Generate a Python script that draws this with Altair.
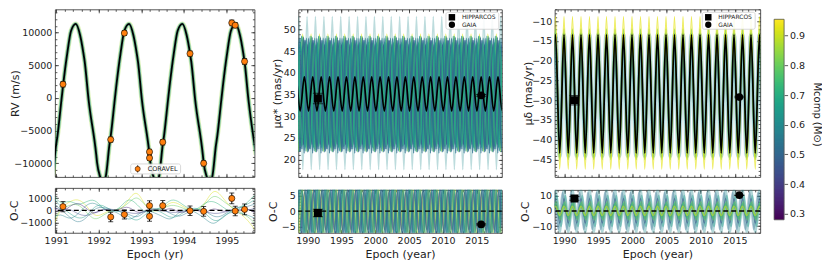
import altair as alt
import pandas as pd

FONT = "DejaVu Sans"

# ---------------- Panel 1: RV vs. Epoch (CORAVEL) ----------------
RV_EPOCH = [1991.16, 1992.28, 1992.60, 1993.19, 1993.19, 1993.50, 1994.14, 1994.46, 1995.12, 1995.20, 1995.42]
RV_VALUE = [2080, -6380, 9900, -8260, -9190, -6770, 6760, -10000, 11450, 11100, 5560]
RV_ERROR = [420, 400, 380, 400, 400, 420, 400, 400, 450, 400, 450]
RV_OC = [310, -550, -340, 390, -490, 390, -30, -80, 990, -50, 80]

MODEL_EPOCH = [1990.785, 1990.835, 1990.91, 1991.00, 1991.03, 1991.125, 1991.16, 1991.26, 1991.35,
               1991.46, 1991.56, 1991.64, 1991.67, 1991.76, 1991.94, 1991.96, 1992.035, 1992.085, 1992.16,
               1992.25, 1992.28, 1992.375, 1992.41, 1992.51, 1992.60,
               1992.71, 1992.81, 1992.89, 1992.92, 1993.01, 1993.19, 1993.21, 1993.285, 1993.335, 1993.41,
               1993.50, 1993.53, 1993.625, 1993.66, 1993.76, 1993.85,
               1993.96, 1994.06, 1994.14, 1994.17, 1994.26, 1994.44, 1994.46, 1994.535, 1994.585, 1994.66,
               1994.75, 1994.78, 1994.875, 1994.91, 1995.01, 1995.10,
               1995.21, 1995.31, 1995.39, 1995.42, 1995.51, 1995.69]
MODEL_RV = [-12100, -12900, -12100, -7160, -5830, -250, 1770, 6800, 10240,
            11300, 9600, 6790, 5480, -250, -8680, -9920, -12100, -12900, -12100,
            -7160, -5830, -250, 1770, 6800, 10240,
            11300, 9600, 6790, 5480, -250, -8680, -9920, -12100, -12900, -12100,
            -7160, -5830, -250, 1770, 6800, 10240,
            11300, 9600, 6790, 5480, -250, -8680, -9920, -12100, -12900, -12100,
            -7160, -5830, -250, 1770, 6800, 10240,
            11300, 9600, 6790, 5480, -250, -8680]
MODEL_HALO_MASS = [0.86, 0.62]

OC_EPOCH = [1990.9, 1991.1, 1991.3, 1991.5, 1991.7, 1991.9, 1992.1, 1992.3, 1992.5, 1992.7, 1992.9, 1993.1,
            1993.3, 1993.5, 1993.7, 1993.9, 1994.1, 1994.3, 1994.5, 1994.7, 1994.9, 1995.1, 1995.3, 1995.5, 1995.7]
OC_S1 = [-1600, 200, 700, 1000, 500, -600, -300, 100, -100, 900, 1800, 200, -150, 100, 800, 500, 50, -150, 600, 1900, 1100, 200, -200, -800, -1800]
OC_S2 = [-1000, 150, 400, 600, -100, -900, -400, 0, 100, 600, 1300, 300, 0, 150, 500, 300, 0, -100, 500, 1400, 800, 300, -100, -500, -1200]
OC_S3 = [1200, 300, -200, -700, -600, 400, 500, -100, 0, -500, -1000, -250, 100, -200, -700, -400, 100, 250, -200, -1000, -700, 0, 300, 500, 1000]
OC_S4 = [700, 100, -500, -1100, -700, 200, 300, 50, -100, -300, -700, 0, 200, 100, -300, -600, -100, 100, 0, -600, -500, 100, 250, 300, 600]
OC_S5 = [300, 0, 200, -300, -500, -200, 100, 100, 0, -200, -300, -100, 100, 0, -200, -150, 0, 0, -100, -300, -200, 0, 100, 0, 200]
OC_S6 = [1500, 400, 900, 400, 700, 1000, 100, -200, 200, 1100, 500, -300, 0, 300, 1000, 700, 100, 0, 700, 800, 300, -200, 100, 700, 1400]
OC_S7 = [-700, -200, -800, -400, 500, 700, 100, 0, -300, -900, -400, 100, -200, -500, -900, 0, 100, -200, -700, -1300, -500, -100, -200, -400, -700]
OC_S8 = [400, -300, 300, 700, 200, -400, 200, -100, 100, 400, -300, 0, 100, -100, 300, -300, 0, 100, -300, 300, -200, 100, -100, 200, -300]
OC_MASS = [0.92, 0.80, 0.66, 0.55, 0.42, 0.72, 0.58, 0.35]

# ---------------- Panels 2 & 3: proper motions (HIPPARCOS / GAIA) ----------------
EXT_EPOCH = [1987.93, 1988.55, 1989.17, 1989.80, 1990.42, 1991.04, 1991.66, 1992.29, 1992.91, 1993.53,
             1994.15, 1994.78, 1995.40, 1996.02, 1996.65, 1997.27, 1997.89, 1998.51, 1999.14, 1999.76,
             2000.38, 2001.00, 2001.63, 2002.25, 2002.87, 2003.49, 2004.12, 2004.74, 2005.36, 2005.98,
             2006.61, 2007.23, 2007.85, 2008.47, 2009.10, 2009.72, 2010.34, 2010.97, 2011.59, 2012.21,
             2012.83, 2013.46, 2014.08, 2014.70, 2015.32, 2015.95, 2016.57, 2017.19, 2017.81, 2018.44,
             2019.06, 2019.68]
# (mass, phase shift [yr], crest value, trough value, opacity, stroke width)
PMRA_BEST = (0.0, -0.30, 39.1, 31.2, 1.0, 1.7)
PMRA_SAMPLES = [(0.60, 0.10, 53.0, 17.7, 0.30, 1.6),
                (0.93, -0.55, 49.0, 22.0, 0.70, 1.3),
                (0.45, -0.15, 47.5, 22.5, 0.80, 1.5),
                (0.52, 0.30, 48.0, 21.5, 0.80, 1.5),
                (0.62, 0.55, 48.5, 22.0, 0.80, 1.5),
                (0.68, -0.40, 47.0, 23.0, 0.80, 1.5),
                (0.75, 0.75, 48.5, 21.8, 0.75, 1.5),
                (0.58, 0.00, 48.0, 22.5, 0.80, 1.5),
                (0.55, 0.95, 47.5, 22.0, 0.80, 1.5),
                (0.48, 0.20, 46.5, 23.5, 0.80, 1.5),
                (0.65, 0.42, 47.0, 22.8, 0.80, 1.5),
                (0.50, 0.85, 48.2, 21.8, 0.80, 1.5),
                (0.72, -0.05, 46.8, 23.2, 0.70, 1.4)]
PMRA_OC_SAMPLES = [(0.50, 0.00, 8.0, -8.0, 0.6, 1.4),
                   (0.62, 0.20, 7.5, -7.5, 0.6, 1.4),
                   (0.72, 0.40, 8.0, -8.0, 0.6, 1.4),
                   (0.85, 0.60, 7.0, -7.0, 0.6, 1.4),
                   (0.93, 0.80, 8.0, -8.0, 0.5, 1.3),
                   (0.40, 1.00, 6.0, -6.0, 0.5, 1.4),
                   (0.55, 0.30, 9.0, -9.0, 0.6, 1.4),
                   (0.66, 0.90, 9.0, -9.0, 0.6, 1.4),
                   (0.58, 0.50, 8.5, -8.5, 0.6, 1.4),
                   (0.48, 1.10, 7.5, -7.5, 0.6, 1.4)]
PMDEC_BEST = (0.0, 0.17, -13.4, -43.4, 1.0, 1.8)
PMDEC_SAMPLES = [(0.60, 0.07, -13.4, -44.2, 0.35, 3.0),
                 (0.60, 0.27, -13.4, -44.2, 0.35, 3.0),
                 (0.50, 0.17, -14.5, -42.5, 0.5, 1.5),
                 (0.70, 0.12, -13.0, -44.0, 0.6, 1.5),
                 (0.80, 0.17, -12.0, -45.0, 0.8, 1.6),
                 (0.93, 0.17, -8.9, -47.4, 0.8, 1.4)]
PMDEC_OC_SAMPLES = [(0.60, 0.17, 14.0, -14.0, 0.35, 2.5),
                    (0.50, -0.05, 12.0, -12.0, 0.35, 2.0),
                    (0.65, 0.35, 10.0, -10.0, 0.4, 2.0),
                    (0.42, 0.17, 8.0, -8.0, 0.5, 1.2),
                    (0.55, 0.10, 4.0, -4.0, 0.6, 1.5),
                    (0.80, 0.30, 6.0, -6.0, 0.5, 1.4),
                    (0.75, 0.17, 5.0, -5.0, 0.6, 1.5),
                    (0.90, 0.17, 3.0, -3.0, 0.6, 1.5)]

ABS_EPOCH = [1991.5, 2015.65]
ABS_NAME = ["HIPPARCOS", "GAIA"]
PMRA_VALUE = [34.1, 34.8]
PMRA_ERR = [1.2, 0.2]
PMRA_OC = [-0.6, -4.3]
PMDEC_VALUE = [-30.0, -29.2]
PMDEC_ERR = [1.2, 0.2]
PMDEC_OC = [8.2, 10.3]

CBAR_RANGE = [0.28, 0.955]
CBAR_TICKS = [0.3, 0.4, 0.5, 0.6, 0.7, 0.8, 0.9]
CBAR_TITLE = "Mcomp (M⊙)"

# ---------------- helpers ----------------
COLOR = alt.Color("mass:Q", scale=alt.Scale(scheme="viridis", domain=CBAR_RANGE), legend=None)


def scales(xdom, ydom):
    return (alt.Scale(domain=xdom, nice=False, zero=False),
            alt.Scale(domain=ydom, nice=False, zero=False))


def axis_layers(xdom, ydom, xmaj, xmin, ymaj, ymin, xtitle=None, ytitle=None, xlabels=False, yfmt="d",
                ytitle_x=-30):
    d = pd.DataFrame({"x": [xdom[0]], "y": [ydom[0]]})
    xs, ys = scales(xdom, ydom)

    def A(orient, vals, size, labels=False, title=None, fmt="d"):
        kw = dict(orient=orient, values=vals, tickSize=size, offset=-size, domain=False, grid=False,
                  ticks=True, tickColor="#333", tickWidth=0.8, labels=labels, title=title)
        if labels:
            kw.update(labelPadding=3, labelFontSize=9.5, labelColor="#222", labelFont=FONT, format=fmt,
                      labelFlush=False, labelOverlap=False)
        if title:
            kw.update(titleFontSize=11, titleFont=FONT, titleFontWeight="normal", titleColor="#222",
                      titlePadding=3)
            if orient == "left":
                kw.update(titleX=ytitle_x, titleBaseline="middle")
        return alt.Axis(**kw)

    specs = [(A("bottom", xmaj, 3.5, xlabels, xtitle), A("left", ymaj, 3.5, True, ytitle, yfmt)),
             (A("bottom", xmin, 2), A("left", ymin, 2)),
             (A("top", xmaj, 3.5), A("right", ymaj, 3.5)),
             (A("top", xmin, 2), A("right", ymin, 2))]
    return [alt.Chart(d).mark_point(opacity=0).encode(
        x=alt.X("x:Q", scale=xs, axis=ax), y=alt.Y("y:Q", scale=ys, axis=ay)) for ax, ay in specs]


def osc_frame(series, tag):
    rows = []
    for i, (m, sh, hi, lo, op, w) in enumerate(series):
        for k, t in enumerate(EXT_EPOCH):
            rows.append({"sid": f"{tag}{i:02d}", "mass": m, "t": t + sh, "v": hi if k % 2 else lo,
                         "op": op, "w": w})
    return pd.DataFrame(rows)


def osc_layer(series, tag, xdom, ydom, black=False):
    xs, ys = scales(xdom, ydom)
    enc = dict(x=alt.X("t:Q", scale=xs, axis=None), y=alt.Y("v:Q", scale=ys, axis=None),
               detail="sid:N", opacity=alt.Opacity("op:Q", scale=None),
               strokeWidth=alt.StrokeWidth("w:Q", scale=None))
    enc["color"] = alt.value("black") if black else COLOR
    return alt.Chart(osc_frame(series, tag)).mark_line(clip=True, interpolate="monotone").encode(**enc)


def zero_line(xdom, ydom):
    xs, ys = scales(xdom, ydom)
    return alt.Chart(pd.DataFrame({"z": [0]})).mark_rule(color="black", strokeDash=[5, 3], strokeWidth=1.4).encode(
        y=alt.Y("z:Q", scale=ys, axis=None))


def data_marks(df, xdom, ydom, shape_field=None, cap=5, fill="#ff7f0e", size=38):
    xs, ys = scales(xdom, ydom)
    df = df.copy()
    df["lo"] = df["v"] - df["e"]
    df["hi"] = df["v"] + df["e"]
    base = alt.Chart(df)
    X = alt.X("t:Q", scale=xs, axis=None)
    rule = base.mark_rule(color="black", strokeWidth=1, clip=True).encode(
        x=X, y=alt.Y("lo:Q", scale=ys, axis=None), y2="hi:Q")
    t1 = base.mark_tick(color="black", size=cap, thickness=1, orient="horizontal", clip=True).encode(
        x=X, y=alt.Y("lo:Q", scale=ys, axis=None))
    t2 = base.mark_tick(color="black", size=cap, thickness=1, orient="horizontal", clip=True).encode(
        x=X, y=alt.Y("hi:Q", scale=ys, axis=None))
    if shape_field:
        pts = base.mark_point(filled=True, color="black", opacity=1, clip=True).encode(
            x=X, y=alt.Y("v:Q", scale=ys, axis=None),
            shape=alt.Shape("name:N", scale=alt.Scale(domain=["HIPPARCOS", "GAIA"], range=["square", "circle"]),
                            legend=None),
            size=alt.Size("name:N", scale=alt.Scale(domain=["HIPPARCOS", "GAIA"], range=[64, 60]), legend=None))
    else:
        pts = base.mark_point(filled=True, fill=fill, stroke="black", strokeWidth=0.6, opacity=1, size=size,
                              clip=True).encode(x=X, y=alt.Y("v:Q", scale=ys, axis=None))
    return [rule, t1, t2, pts]


def coravel_legend():
    d = pd.DataFrame({"a": [0]})
    box = alt.Chart(d).mark_rect(fill="white", stroke="#cccccc", strokeWidth=0.8, cornerRadius=2,
                                 opacity=0.9).encode(x=alt.value(76), x2=alt.value(126), y=alt.value(155),
                                                     y2=alt.value(165))
    bar = alt.Chart(d).mark_rule(color="black", strokeWidth=1).encode(x=alt.value(83), y=alt.value(156.5),
                                                                       y2=alt.value(163.5))
    dot = alt.Chart(d).mark_point(filled=True, fill="#ff7f0e", stroke="black", strokeWidth=0.5, opacity=1,
                                  size=26).encode(x=alt.value(83), y=alt.value(160))
    txt = alt.Chart(d).mark_text(align="left", baseline="middle", fontSize=6.5, font=FONT, color="#222").encode(
        x=alt.value(93), y=alt.value(160.5), text=alt.value("CORAVEL"))
    return [box, bar, dot, txt]


def astro_legend():
    d = pd.DataFrame({"a": [0]})
    box = alt.Chart(d).mark_rect(fill="white", stroke="#cccccc", strokeWidth=0.8, cornerRadius=2,
                                 opacity=0.9).encode(x=alt.value(148), x2=alt.value(201), y=alt.value(3),
                                                     y2=alt.value(20))
    sq = alt.Chart(d).mark_point(filled=True, color="black", opacity=1, shape="square", size=42).encode(
        x=alt.value(154), y=alt.value(8))
    ci = alt.Chart(d).mark_point(filled=True, color="black", opacity=1, shape="circle", size=40).encode(
        x=alt.value(154), y=alt.value(15.5))
    t1 = alt.Chart(d).mark_text(align="left", baseline="middle", fontSize=6, font=FONT, color="#222").encode(
        x=alt.value(164), y=alt.value(8), text=alt.value("HIPPARCOS"))
    t2 = alt.Chart(d).mark_text(align="left", baseline="middle", fontSize=6, font=FONT, color="#222").encode(
        x=alt.value(164), y=alt.value(15.5), text=alt.value("GAIA"))
    return [box, sq, ci, t1, t2]


def view(layers, w, h):
    return alt.layer(*layers).resolve_axis(x="independent", y="independent").properties(width=w, height=h)


W1, W2, W3 = 200, 204, 206
HM, HO1, HO2 = 168, 45, 43

# ---------- Panel 1 ----------
X1 = [1990.97, 1995.65]
Y1 = [-12080, 13530]
Y1OC = [-1850, 1860]
X1_MAJ = [1991, 1992, 1993, 1994, 1995]
X1_MIN = [round(1991 + 0.2 * i, 1) for i in range(0, 24)]
model_df = pd.DataFrame({"t": MODEL_EPOCH, "v": MODEL_RV})
xs1, ys1 = scales(X1, Y1)
halo = []
for m, w, op in zip(MODEL_HALO_MASS, [5, 3.5], [0.35, 0.55]):
    hd = model_df.assign(mass=m)
    halo.append(alt.Chart(hd).mark_line(clip=True, interpolate="monotone", strokeWidth=w, opacity=op).encode(
        x=alt.X("t:Q", scale=xs1, axis=None), y=alt.Y("v:Q", scale=ys1, axis=None), color=COLOR))
best1 = alt.Chart(model_df).mark_line(clip=True, interpolate="monotone", color="black", strokeWidth=1.8).encode(
    x=alt.X("t:Q", scale=xs1, axis=None), y=alt.Y("v:Q", scale=ys1, axis=None))
rv_df = pd.DataFrame({"t": RV_EPOCH, "v": RV_VALUE, "e": RV_ERROR})
main1 = view(halo + [best1] + data_marks(rv_df, X1, Y1) + coravel_legend() +
             axis_layers(X1, Y1, X1_MAJ, X1_MIN, [-10000, -5000, 0, 5000, 10000],
                         list(range(-12000, 14000, 1000)), ytitle="RV (m/s)", ytitle_x=-43), W1, HM)

oc_rows = []
for j, (m, s) in enumerate(zip(OC_MASS, [OC_S1, OC_S2, OC_S3, OC_S4, OC_S5, OC_S6, OC_S7, OC_S8])):
    for t, v in zip(OC_EPOCH, s):
        oc_rows.append({"sid": j, "mass": m, "t": t, "v": v})
xs1o, ys1o = scales(X1, Y1OC)
oc_lines = alt.Chart(pd.DataFrame(oc_rows)).mark_line(clip=True, interpolate="basis", strokeWidth=1.0,
                                                      opacity=0.45).encode(
    x=alt.X("t:Q", scale=xs1o, axis=None), y=alt.Y("v:Q", scale=ys1o, axis=None), detail="sid:N", color=COLOR)
rvoc_df = pd.DataFrame({"t": RV_EPOCH, "v": RV_OC, "e": RV_ERROR})
oc1 = view([oc_lines, zero_line(X1, Y1OC)] + data_marks(rvoc_df, X1, Y1OC) +
           axis_layers(X1, Y1OC, X1_MAJ, X1_MIN, [-1000, 0, 1000], list(range(-1800, 1900, 200)),
                       xtitle="Epoch (yr)", ytitle="O-C", xlabels=True, ytitle_x=-44), W1, HO1)

# ---------- Panels 2 & 3 ----------
X23 = [1988.6, 2018.7]
X23_MAJ = [1990, 1995, 2000, 2005, 2010, 2015]
X23_MIN = list(range(1989, 2019))
Y2 = [16.0, 54.7]
Y2OC = [-7.0, 6.9]
Y3 = [-49.4, -7.0]
Y3OC = [-14.3, 13.8]

hip2 = pd.DataFrame({"t": ABS_EPOCH, "v": PMRA_VALUE, "e": PMRA_ERR, "name": ABS_NAME})
hip2oc = pd.DataFrame({"t": ABS_EPOCH, "v": PMRA_OC, "e": PMRA_ERR, "name": ABS_NAME})
hip3 = pd.DataFrame({"t": ABS_EPOCH, "v": PMDEC_VALUE, "e": PMDEC_ERR, "name": ABS_NAME})
hip3oc = pd.DataFrame({"t": ABS_EPOCH, "v": PMDEC_OC, "e": PMDEC_ERR, "name": ABS_NAME})

main2 = view([osc_layer(PMRA_SAMPLES, "a", X23, Y2), osc_layer([PMRA_BEST], "ab", X23, Y2, black=True)] +
             data_marks(hip2, X23, Y2, shape_field="name", cap=10) + astro_legend() +
             axis_layers(X23, Y2, X23_MAJ, X23_MIN, [20, 25, 30, 35, 40, 45, 50], list(range(16, 55)),
                         ytitle="μα* (mas/yr)", ytitle_x=-24), W2, HM)
oc2 = view([osc_layer(PMRA_OC_SAMPLES, "ao", X23, Y2OC), zero_line(X23, Y2OC)] +
           data_marks(hip2oc, X23, Y2OC, shape_field="name", cap=10) +
           axis_layers(X23, Y2OC, X23_MAJ, X23_MIN, [-5, 0, 5], list(range(-7, 7)),
                       xtitle="Epoch (year)", ytitle="O-C", xlabels=True, ytitle_x=-28), W2, HO2)

main3 = view([osc_layer(PMDEC_SAMPLES, "d", X23, Y3), osc_layer([PMDEC_BEST], "db", X23, Y3, black=True)] +
             data_marks(hip3, X23, Y3, shape_field="name", cap=10) + astro_legend() +
             axis_layers(X23, Y3, X23_MAJ, X23_MIN, [-45, -40, -35, -30, -25, -20, -15, -10],
                         list(range(-49, -6)), ytitle="μδ (mas/yr)", ytitle_x=-30), W3, HM)
oc3 = view([osc_layer(PMDEC_OC_SAMPLES, "do", X23, Y3OC), zero_line(X23, Y3OC)] +
           data_marks(hip3oc, X23, Y3OC, shape_field="name", cap=10) +
           axis_layers(X23, Y3OC, X23_MAJ, X23_MIN, [-10, 0, 10], list(range(-14, 14, 2)),
                       xtitle="Epoch (year)", ytitle="O-C", xlabels=True, ytitle_x=-33), W3, HO2)

# ---------- colour bar ----------
CB_H, CB_PAD = 211, 10
cb_top = CBAR_RANGE[1] + CB_PAD / (CB_H - CB_PAD) * (CBAR_RANGE[1] - CBAR_RANGE[0])
cb_levels = [CBAR_RANGE[0] + i * 0.0045 for i in range(150)]
cb_df = pd.DataFrame({"mass": [v + 0.00225 for v in cb_levels], "lo": cb_levels,
                      "hi": [min(v + 0.009, CBAR_RANGE[1]) for v in cb_levels]})
cb_scale = alt.Scale(domain=[CBAR_RANGE[0], cb_top], nice=False, zero=False)
cb_bands = alt.Chart(cb_df).mark_rect(strokeWidth=0).encode(
    x=alt.value(0), x2=alt.value(10),
    y=alt.Y("lo:Q", scale=cb_scale,
            axis=alt.Axis(orient="right", values=CBAR_TICKS, format=".1f", tickSize=3.5, tickColor="#333",
                          tickWidth=0.8, domain=False, grid=False, labelPadding=2, labelFontSize=9.5,
                          labelFont=FONT, labelColor="#222", title=CBAR_TITLE, titleFont=FONT,
                          titleFontSize=10, titleFontWeight="normal", titleColor="#222", titleX=32,
                          titleY=105, titleBaseline="middle", titleAngle=90)),
    y2="hi:Q", color=COLOR)
cb_frame = alt.Chart(pd.DataFrame({"lo": [CBAR_RANGE[0]], "hi": [CBAR_RANGE[1]]})).mark_rect(
    fill=None, stroke="#555555", strokeWidth=0.8).encode(
    x=alt.value(0), x2=alt.value(10), y=alt.Y("lo:Q", scale=cb_scale, axis=None), y2="hi:Q")
cbar = alt.layer(cb_bands, cb_frame).resolve_axis(y="independent").properties(
    width=10, height=CB_H, view=alt.ViewConfig(stroke=None))

RES = dict(x="independent", y="independent", color="shared")
col1 = alt.vconcat(main1, oc1, spacing=6).resolve_scale(**RES)
col2 = alt.vconcat(main2, oc2, spacing=8).resolve_scale(**RES)
col3 = alt.vconcat(main3, oc3, spacing=8).resolve_scale(**RES)
c12 = alt.hconcat(col1, col2, spacing=11).resolve_scale(**RES)
c123 = alt.hconcat(c12, col3, spacing=15).resolve_scale(**RES)
chart = alt.hconcat(c123, cbar, spacing=11).resolve_scale(**RES)
chart = chart.properties(padding={"left": 0, "top": 0, "right": 1, "bottom": 1}, background="white").configure(
    font=FONT).configure_view(stroke="#555555", strokeWidth=1)

chart.save("out.html", embed_options={"renderer": "svg", "actions": False})
